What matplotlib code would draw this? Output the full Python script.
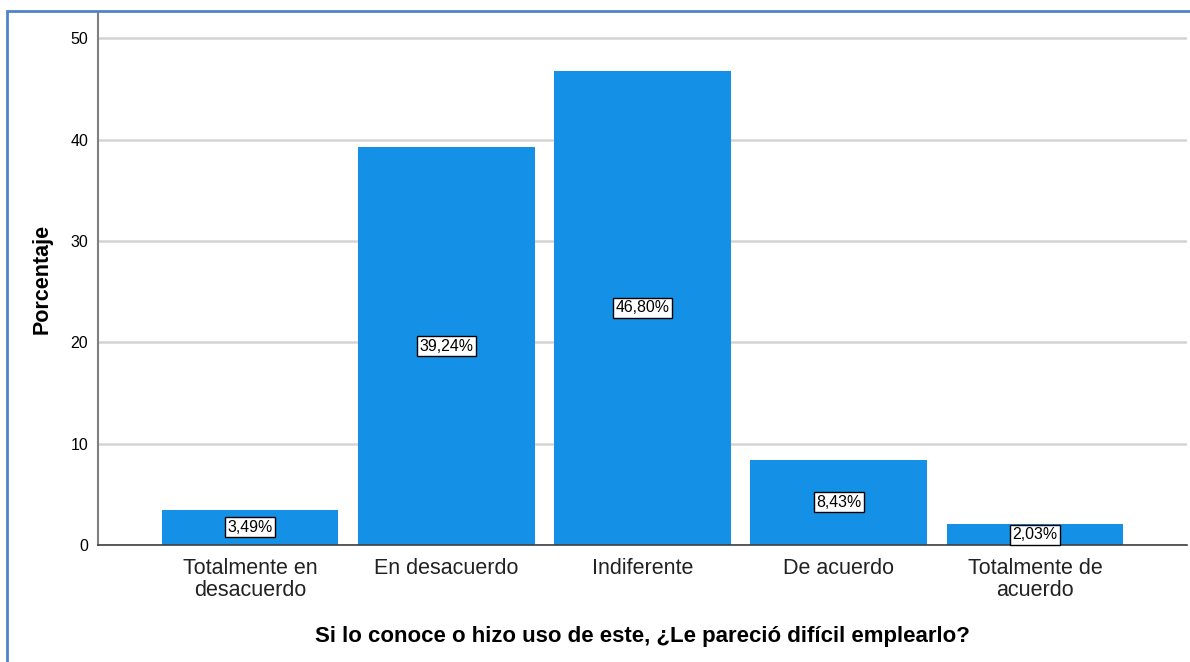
import matplotlib.pyplot as plt
from matplotlib.patches import Rectangle

categories = ["Totalmente en\ndesacuerdo", "En desacuerdo", "Indiferente",
              "De acuerdo", "Totalmente de\nacuerdo"]
percentages = [3.49, 39.24, 46.80, 8.43, 2.03]
bar_labels = ["3,49%", "39,24%", "46,80%", "8,43%", "2,03%"]
y_ticks = [0, 10, 20, 30, 40, 50]

plt.rcParams['font.family'] = ['Liberation Sans', 'DejaVu Sans']

fig = plt.figure(figsize=(11.9, 6.62), dpi=100)
ax = fig.add_axes([98 / 1190, 1 - 545 / 662, (1187 - 98) / 1190, (545 - 12) / 662])

x = range(len(categories))
bars = ax.bar(x, percentages, width=0.9, color='#1491E6', zorder=2)

for bar, txt in zip(bars, bar_labels):
    ax.text(bar.get_x() + bar.get_width() / 2, bar.get_height() / 2, txt,
            ha='center', va='center', fontsize=11.4, color='black', zorder=3,
            bbox=dict(boxstyle='square,pad=0.15', facecolor='white',
                      edgecolor='black', linewidth=1))

ax.set_xlim(-0.775, 4.775)
ax.set_ylim(0, 52.6)
ax.set_yticks(y_ticks)
ax.set_xticks(list(x))
ax.set_xticklabels(categories, fontsize=15.5, color='#222222', linespacing=1.07)
ax.tick_params(axis='y', labelsize=11.5, length=0, pad=7)
ax.tick_params(axis='x', length=0, pad=9)
ax.yaxis.grid(True, color='#D4D4D4', linewidth=1.8, zorder=0)
ax.set_axisbelow(True)

for side in ['top', 'right']:
    ax.spines[side].set_visible(False)
ax.spines['left'].set_color('#808080')
ax.spines['left'].set_linewidth(1.5)
ax.spines['bottom'].set_color('#404040')
ax.spines['bottom'].set_linewidth(1.2)

ax.set_ylabel("Porcentaje", fontsize=15.5, fontweight='bold', labelpad=13)
ax.set_xlabel("Si lo conoce o hizo uso de este, ¿Le pareció difícil emplearlo?",
              fontsize=16, fontweight='bold', labelpad=18)

# marco azul alrededor del gráfico
fig.patches.append(Rectangle((7 / 1190, -0.05), 1.2, 1 - 11 / 662 + 0.05,
                             transform=fig.transFigure, fill=False,
                             edgecolor='#4F84C9', linewidth=2))

plt.savefig("out.png", dpi=100)
plt.close()
